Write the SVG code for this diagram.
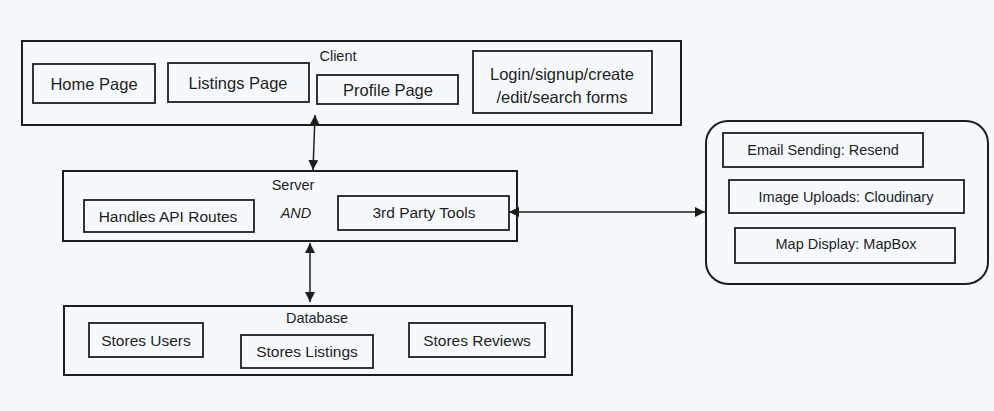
<svg xmlns="http://www.w3.org/2000/svg" width="994" height="411" viewBox="0 0 994 411">
<defs>
<marker id="ah" viewBox="0 0 10 10" refX="10" refY="5" markerWidth="10" markerHeight="10" markerUnits="userSpaceOnUse" orient="auto-start-reverse">
<path d="M0,0 L10,5 L0,10 Z" fill="#1e1e1e"/>
</marker>
<style>
.outer{fill:none;stroke:#1e1e1e;stroke-width:2}
.inner{fill:none;stroke:#1e1e1e;stroke-width:1.8}
.t{font-family:"Liberation Sans",Arial,sans-serif;fill:#1e1e1e;text-anchor:middle;dominant-baseline:central}
.l{font-size:16.5px}
.m{font-size:15.5px}
.h{font-size:14.5px}
.s{font-size:14.5px}
.conn{stroke:#1e1e1e;stroke-width:1.5;fill:none;marker-start:url(#ah);marker-end:url(#ah)}
</style>
</defs>
<rect width="994" height="411" fill="#f5f9fc"/>

<g id="client">
<rect class="outer" x="22" y="41" width="659" height="84"/>
<text class="t h" x="338" y="56">Client</text>
</g>
<g id="home-page">
<rect class="inner" x="33" y="64" width="122" height="39"/>
<text class="t l" x="94" y="84">Home Page</text>
</g>
<g id="listings-page">
<rect class="inner" x="168" y="63" width="141" height="39"/>
<text class="t l" x="238" y="83">Listings Page</text>
</g>
<g id="profile-page">
<rect class="inner" x="317" y="75" width="141" height="29"/>
<text class="t l" x="388" y="90">Profile Page</text>
</g>
<g id="forms">
<rect class="inner" x="473" y="51" width="179" height="62"/>
<text class="t l" x="562" y="74">Login/signup/create</text>
<text class="t l" x="562" y="97">/edit/search forms</text>
</g>

<g id="server">
<rect class="outer" x="63" y="171" width="454" height="70"/>
<text class="t h" x="293" y="185">Server</text>
<text class="t h" x="296" y="213" font-style="italic">AND</text>
</g>
<g id="api-routes">
<rect class="inner" x="84" y="200" width="170" height="32"/>
<text class="t m" x="168" y="216">Handles API Routes</text>
</g>
<g id="third-party">
<rect class="inner" x="338" y="196" width="171" height="34"/>
<text class="t m" x="424" y="212">3rd Party Tools</text>
</g>

<g id="database">
<rect class="outer" x="64" y="306" width="508" height="69"/>
<text class="t h" x="317" y="318">Database</text>
</g>
<g id="stores-users">
<rect class="inner" x="89" y="323" width="114" height="34"/>
<text class="t m" x="146" y="340">Stores Users</text>
</g>
<g id="stores-listings">
<rect class="inner" x="241" y="335" width="132" height="33"/>
<text class="t m" x="307" y="351">Stores Listings</text>
</g>
<g id="stores-reviews">
<rect class="inner" x="409" y="323" width="136" height="34"/>
<text class="t m" x="477" y="340">Stores Reviews</text>
</g>

<g id="tools-group">
<rect class="outer" x="706" y="121" width="282" height="163" rx="22"/>
</g>
<g id="email">
<rect class="inner" x="723" y="133" width="200" height="34"/>
<text class="t s" x="823" y="150">Email Sending: Resend</text>
</g>
<g id="image-uploads">
<rect class="inner" x="729" y="180" width="235" height="33"/>
<text class="t s" x="846" y="197">Image Uploads: Cloudinary</text>
</g>
<g id="map-display">
<rect class="inner" x="735" y="228" width="220" height="35"/>
<text class="t s" x="846" y="244">Map Display: MapBox</text>
</g>

<g id="connectors">
<path class="conn" d="M315,115 L313,170"/>
<path class="conn" d="M310,243 L310,302"/>
<path class="conn" d="M509,212 L705,212"/>
</g>
</svg>
